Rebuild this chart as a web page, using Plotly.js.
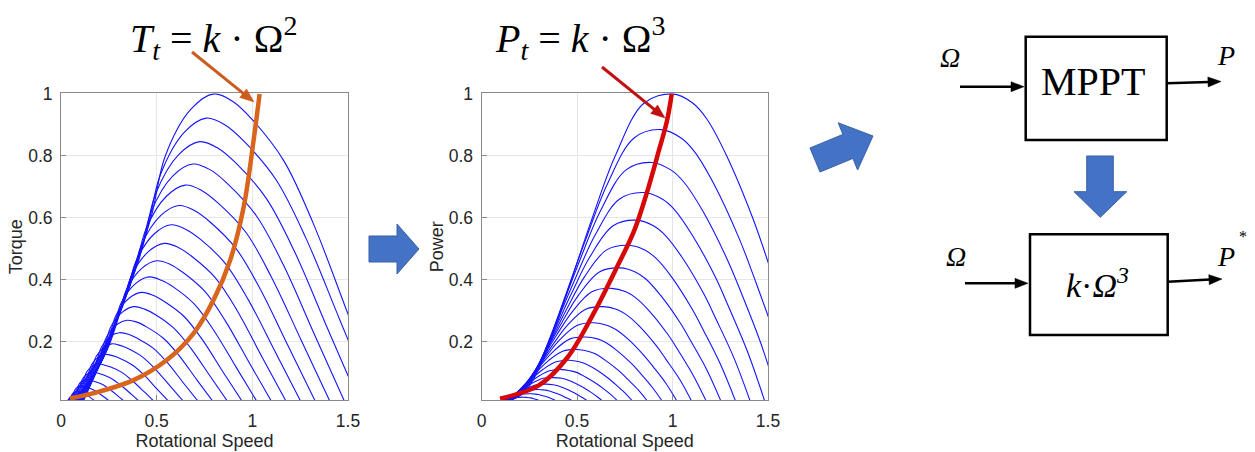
<!DOCTYPE html>
<html><head><meta charset="utf-8">
<script src="https://cdn.plot.ly/plotly-3.0.1.min.js"></script>
<style>html,body{margin:0;padding:0;background:#fff}#chart{width:1255px;height:452px}</style>
</head><body><div id="chart"></div>
<script>
// ---------- data ----------
const windSpeeds = [1.00,0.96,0.92,0.88,0.84,0.80,0.76,0.72,0.68,0.64,0.60,0.56,0.52,0.48,0.44,0.40,0.36,0.32,0.28,0.24,0.20,0.16];

const torqueX = [
 [0.11,0.183,0.258,0.36,0.47,0.545,0.678,0.8,0.9,1.0,1.164,1.32,1.5,1.68],
 [0.106,0.175,0.246,0.343,0.447,0.518,0.644,0.76,0.86,0.96,1.124,1.28,1.46,1.64],
 [0.101,0.167,0.235,0.327,0.427,0.494,0.615,0.725,0.821,0.916,1.072,1.221,1.392,1.564],
 [0.097,0.16,0.224,0.312,0.407,0.471,0.585,0.69,0.781,0.871,1.02,1.162,1.324,1.488],
 [0.092,0.151,0.211,0.294,0.383,0.444,0.551,0.65,0.737,0.823,0.966,1.1,1.256,1.412],
 [0.088,0.144,0.201,0.279,0.363,0.42,0.522,0.615,0.697,0.779,0.914,1.041,1.188,1.336],
 [0.084,0.136,0.189,0.262,0.34,0.393,0.488,0.575,0.653,0.731,0.859,0.98,1.12,1.26],
 [0.079,0.128,0.178,0.246,0.32,0.369,0.458,0.54,0.613,0.686,0.807,0.921,1.052,1.184],
 [0.075,0.12,0.166,0.229,0.297,0.343,0.425,0.5,0.569,0.638,0.752,0.859,0.983,1.108],
 [0.07,0.111,0.154,0.211,0.274,0.316,0.391,0.46,0.525,0.59,0.697,0.798,0.915,1.032],
 [0.066,0.104,0.142,0.194,0.251,0.289,0.357,0.42,0.481,0.542,0.642,0.737,0.846,0.956],
 [0.062,0.096,0.13,0.177,0.228,0.262,0.324,0.38,0.437,0.494,0.587,0.676,0.778,0.88],
 [0.057,0.088,0.119,0.161,0.207,0.238,0.294,0.345,0.397,0.449,0.535,0.616,0.71,0.804],
 [0.053,0.08,0.107,0.144,0.185,0.212,0.26,0.305,0.353,0.401,0.48,0.555,0.641,0.728],
 [0.048,0.071,0.094,0.127,0.161,0.185,0.227,0.265,0.309,0.353,0.425,0.494,0.573,0.652],
 [0.044,0.064,0.084,0.111,0.141,0.161,0.197,0.23,0.269,0.309,0.373,0.435,0.505,0.576],
 [0.04,0.056,0.072,0.094,0.118,0.135,0.164,0.19,0.225,0.26,0.318,0.373,0.437,0.5],
 [0.035,0.048,0.062,0.08,0.1,0.114,0.138,0.16,0.19,0.22,0.269,0.316,0.37,0.424],
 [0.031,0.041,0.052,0.067,0.083,0.093,0.112,0.13,0.155,0.18,0.22,0.259,0.303,0.348],
 [0.026,0.034,0.042,0.053,0.065,0.073,0.087,0.1,0.12,0.139,0.171,0.202,0.237,0.272],
 [0.022,0.028,0.034,0.043,0.052,0.059,0.07,0.08,0.093,0.106,0.128,0.149,0.172,0.196],
 [0.018,0.022,0.027,0.033,0.04,0.044,0.053,0.06,0.068,0.076,0.089,0.101,0.116,0.13]
];
const torqueY = [
 [0,0.1,0.2,0.4,0.6,0.8,0.95,1,0.975,0.917,0.785,0.58,0.29,0],
 [0,0.092,0.184,0.369,0.553,0.737,0.876,0.922,0.899,0.845,0.723,0.535,0.267,0],
 [0,0.085,0.169,0.339,0.508,0.677,0.804,0.846,0.825,0.776,0.664,0.491,0.245,0],
 [0,0.077,0.155,0.31,0.465,0.62,0.736,0.774,0.755,0.71,0.608,0.449,0.225,0],
 [0,0.071,0.141,0.282,0.423,0.564,0.67,0.706,0.688,0.647,0.554,0.409,0.205,0],
 [0,0.064,0.128,0.256,0.384,0.512,0.608,0.64,0.624,0.587,0.502,0.371,0.186,0],
 [0,0.058,0.116,0.231,0.347,0.462,0.549,0.578,0.563,0.53,0.453,0.335,0.168,0],
 [0,0.052,0.104,0.207,0.311,0.415,0.492,0.518,0.505,0.475,0.407,0.301,0.15,0],
 [0,0.046,0.092,0.185,0.277,0.37,0.439,0.462,0.451,0.424,0.363,0.268,0.134,0],
 [0,0.041,0.082,0.164,0.246,0.328,0.389,0.41,0.399,0.376,0.322,0.238,0.119,0],
 [0,0.036,0.072,0.144,0.216,0.288,0.342,0.36,0.351,0.33,0.283,0.209,0.104,0],
 [0,0.031,0.063,0.125,0.188,0.251,0.298,0.314,0.306,0.288,0.246,0.182,0.091,0],
 [0,0.027,0.054,0.108,0.162,0.216,0.257,0.27,0.264,0.248,0.212,0.157,0.078,0],
 [0,0.023,0.046,0.092,0.138,0.184,0.219,0.23,0.225,0.211,0.181,0.134,0.067,0],
 [0,0.019,0.039,0.077,0.116,0.155,0.184,0.194,0.189,0.178,0.152,0.112,0.056,0],
 [0,0.016,0.032,0.064,0.096,0.128,0.152,0.16,0.156,0.147,0.126,0.093,0.046,0],
 [0,0.013,0.026,0.052,0.078,0.104,0.123,0.13,0.126,0.119,0.102,0.075,0.038,0],
 [0,0.01,0.02,0.041,0.061,0.082,0.097,0.102,0.1,0.094,0.08,0.059,0.03,0],
 [0,0.008,0.016,0.031,0.047,0.063,0.074,0.078,0.076,0.072,0.062,0.045,0.023,0],
 [0,0.006,0.012,0.023,0.035,0.046,0.055,0.058,0.056,0.053,0.045,0.033,0.017,0],
 [0,0.004,0.008,0.016,0.024,0.032,0.038,0.04,0.039,0.037,0.031,0.023,0.012,0],
 [0,0.003,0.005,0.01,0.015,0.02,0.024,0.026,0.025,0.023,0.02,0.015,0.007,0]
];

const powerX = [
 [0.05,0.21,0.29,0.36,0.47,0.58,0.7,0.85,1.0,1.107,1.179,1.284,1.42,1.5,1.609,1.716],
 [0.048,0.198,0.274,0.339,0.442,0.546,0.658,0.799,0.94,1.045,1.115,1.218,1.351,1.429,1.535,1.64],
 [0.046,0.188,0.26,0.321,0.419,0.517,0.623,0.757,0.89,0.991,1.059,1.158,1.286,1.361,1.463,1.564],
 [0.044,0.179,0.248,0.307,0.4,0.494,0.595,0.723,0.85,0.946,1.01,1.103,1.225,1.295,1.392,1.488],
 [0.042,0.171,0.236,0.292,0.382,0.471,0.567,0.689,0.81,0.9,0.961,1.049,1.163,1.23,1.322,1.412],
 [0.04,0.163,0.225,0.278,0.363,0.447,0.539,0.655,0.77,0.855,0.912,0.995,1.102,1.165,1.251,1.336],
 [0.038,0.153,0.212,0.262,0.342,0.421,0.508,0.617,0.725,0.805,0.859,0.937,1.039,1.098,1.18,1.26],
 [0.036,0.144,0.199,0.246,0.321,0.395,0.477,0.578,0.68,0.756,0.806,0.88,0.976,1.032,1.108,1.184],
 [0.034,0.136,0.187,0.231,0.301,0.371,0.447,0.543,0.638,0.709,0.756,0.825,0.914,0.966,1.038,1.108],
 [0.032,0.126,0.173,0.214,0.279,0.343,0.414,0.502,0.59,0.656,0.701,0.766,0.85,0.899,0.966,1.032],
 [0.03,0.117,0.16,0.198,0.258,0.317,0.382,0.464,0.545,0.607,0.648,0.708,0.786,0.832,0.894,0.956],
 [0.028,0.107,0.147,0.182,0.237,0.291,0.351,0.425,0.5,0.557,0.595,0.651,0.723,0.765,0.823,0.88],
 [0.026,0.099,0.136,0.168,0.218,0.268,0.323,0.391,0.46,0.512,0.546,0.597,0.662,0.7,0.752,0.804],
 [0.024,0.091,0.124,0.153,0.199,0.245,0.295,0.357,0.42,0.466,0.497,0.542,0.601,0.635,0.682,0.728],
 [0.022,0.082,0.113,0.139,0.18,0.222,0.267,0.323,0.38,0.421,0.448,0.488,0.54,0.57,0.611,0.652],
 [0.02,0.074,0.101,0.124,0.161,0.199,0.239,0.289,0.34,0.375,0.399,0.434,0.479,0.505,0.541,0.576],
 [0.018,0.065,0.089,0.11,0.143,0.175,0.211,0.255,0.3,0.33,0.35,0.379,0.417,0.44,0.47,0.5],
 [0.016,0.057,0.078,0.096,0.124,0.152,0.183,0.221,0.26,0.285,0.301,0.325,0.356,0.374,0.399,0.424],
 [0.014,0.049,0.066,0.081,0.105,0.129,0.155,0.187,0.22,0.239,0.252,0.271,0.295,0.309,0.329,0.348]
];
const powerY = [
 [0,0.03,0.1,0.2,0.4,0.6,0.8,0.97,1,0.97,0.92,0.8,0.6,0.458,0.25,0],
 [0,0.027,0.088,0.177,0.354,0.531,0.708,0.858,0.885,0.858,0.814,0.708,0.531,0.405,0.221,0],
 [0,0.023,0.078,0.156,0.311,0.467,0.623,0.755,0.779,0.755,0.716,0.623,0.467,0.357,0.195,0],
 [0,0.02,0.068,0.136,0.273,0.409,0.545,0.661,0.682,0.661,0.627,0.545,0.409,0.312,0.17,0],
 [0,0.018,0.059,0.119,0.237,0.356,0.474,0.575,0.593,0.575,0.545,0.474,0.356,0.271,0.148,0],
 [0,0.015,0.051,0.102,0.205,0.307,0.41,0.497,0.512,0.497,0.471,0.41,0.307,0.234,0.128,0],
 [0,0.013,0.044,0.088,0.176,0.263,0.351,0.426,0.439,0.426,0.404,0.351,0.263,0.201,0.11,0],
 [0,0.011,0.037,0.075,0.149,0.224,0.299,0.362,0.373,0.362,0.343,0.299,0.224,0.171,0.093,0],
 [0,0.009,0.031,0.063,0.126,0.189,0.252,0.305,0.314,0.305,0.289,0.252,0.189,0.144,0.079,0],
 [0,0.008,0.026,0.052,0.105,0.157,0.21,0.254,0.262,0.254,0.241,0.21,0.157,0.12,0.066,0],
 [0,0.006,0.022,0.043,0.086,0.13,0.173,0.21,0.216,0.21,0.199,0.173,0.13,0.099,0.054,0],
 [0,0.005,0.018,0.035,0.07,0.105,0.14,0.17,0.176,0.17,0.162,0.14,0.105,0.08,0.044,0],
 [0,0.004,0.014,0.028,0.056,0.084,0.112,0.136,0.141,0.136,0.129,0.112,0.084,0.064,0.035,0],
 [0,0.003,0.011,0.022,0.044,0.066,0.088,0.107,0.111,0.107,0.102,0.088,0.066,0.051,0.028,0],
 [0,0.003,0.009,0.017,0.034,0.051,0.068,0.083,0.085,0.083,0.078,0.068,0.051,0.039,0.021,0],
 [0,0.002,0.006,0.013,0.026,0.038,0.051,0.062,0.064,0.062,0.059,0.051,0.038,0.029,0.016,0],
 [0,0.001,0.005,0.009,0.019,0.028,0.037,0.045,0.047,0.045,0.043,0.037,0.028,0.021,0.012,0],
 [0,0.001,0.003,0.007,0.013,0.02,0.026,0.032,0.033,0.032,0.03,0.026,0.02,0.015,0.008,0],
 [0,0.001,0.002,0.004,0.009,0.013,0.018,0.021,0.022,0.021,0.02,0.018,0.013,0.01,0.006,0]
];

// optimal (maximum-power) curves
const torqueOptX = [0.047,0.2,0.379,0.553,0.693,0.797,0.885,0.955,1.007,1.038];
const torqueOptY = [0.018,0.04,0.077,0.142,0.228,0.335,0.465,0.636,0.852,1.0];
const powerOptX  = [0.097,0.3,0.45,0.585,0.7,0.8,0.87,0.93,0.97,0.996];
const powerOptY  = [0.017,0.06,0.15,0.29,0.43,0.56,0.69,0.82,0.91,1.0];

const xTickVals = [0,0.5,1,1.5];
const xTickText = ['0','0.5','1','1.5'];
const yTickVals = [0.2,0.4,0.6,0.8,1];
const yTickText = ['0.2','0.4','0.6','0.8','1'];

// ---------- traces ----------
const BLUE = 'rgb(20,20,255)';
const traces = [];
torqueX.forEach((xs,i)=>traces.push({x:xs,y:torqueY[i],xaxis:'x',yaxis:'y',type:'scatter',mode:'lines',
  name:'v='+windSpeeds[i],line:{color:BLUE,width:1.1,shape:'spline',smoothing:1},hoverinfo:'skip',showlegend:false}));
powerX.forEach((xs,i)=>traces.push({x:xs,y:powerY[i],xaxis:'x2',yaxis:'y2',type:'scatter',mode:'lines',
  name:'v='+windSpeeds[i],line:{color:BLUE,width:1.1,shape:'spline',smoothing:1},hoverinfo:'skip',showlegend:false}));
traces.push({x:torqueOptX,y:torqueOptY,xaxis:'x',yaxis:'y',type:'scatter',mode:'lines',
  line:{color:'rgb(217,100,28)',width:4.5,shape:'spline',smoothing:1},hoverinfo:'skip',showlegend:false});
traces.push({x:powerOptX,y:powerOptY,xaxis:'x2',yaxis:'y2',type:'scatter',mode:'lines',
  line:{color:'rgb(214,8,8)',width:4.5,shape:'spline',smoothing:1},hoverinfo:'skip',showlegend:false});

// ---------- layout ----------
const W=1255,H=452;
const fx = p => p/W, fy = p => 1 - p/H;
const tickFont = {family:'Liberation Sans, Arial, sans-serif',size:17.5,color:'#262626'};
const titleFont = {family:'Liberation Sans, Arial, sans-serif',size:18,color:'#262626'};
function xAx(d0,d1,anchor){return {domain:[fx(d0),fx(d1)],range:[0,1.5],anchor:anchor,showline:true,mirror:true,
  linecolor:'#8a8a8a',linewidth:1,ticks:'inside',ticklen:5,tickcolor:'#8a8a8a',tickvals:xTickVals,ticktext:xTickText,
  showgrid:true,gridcolor:'#e6e6e6',zeroline:false,tickfont:tickFont,ticklabelstandoff:5,
  title:{text:'Rotational Speed',font:titleFont,standoff:3}};}
function yAx(anchor,title){return {domain:[fy(400),fy(93.3)],range:[0.0129,1.002],anchor:anchor,showline:true,mirror:true,
  linecolor:'#8a8a8a',linewidth:1,ticks:'inside',ticklen:5,tickcolor:'#8a8a8a',tickvals:yTickVals,ticktext:yTickText,
  showgrid:true,gridcolor:'#e6e6e6',zeroline:false,tickfont:tickFont,ticklabelstandoff:4,
  title:{text:title,font:titleFont,standoff:0}};}

function path(pts,close){return 'M '+pts.map(p=>fx(p[0]).toFixed(5)+','+fy(p[1]).toFixed(5)).join(' L ')+(close===false?'':' Z');}
// arrow drawn as a line plus a filled triangular head (pixel coordinates of the page)
function arrowShapes(x0,y0,x1,y1,color,w,hl,hw){
  const dx=x1-x0, dy=y1-y0, L=Math.hypot(dx,dy), ux=dx/L, uy=dy/L, nx=-uy, ny=ux;
  const bx=x1-ux*hl, by=y1-uy*hl;
  return [
    {type:'path',xref:'paper',yref:'paper',path:path([[x0,y0],[bx+ux*1,by+uy*1]],false),line:{color:color,width:w}},
    {type:'path',xref:'paper',yref:'paper',path:path([[x1,y1],[bx+nx*hw/2,by+ny*hw/2],[bx-nx*hw/2,by-ny*hw/2]]),
      fillcolor:color,line:{color:color,width:0.5}}
  ];
}
const ARROWBLUE='rgb(68,114,196)';
const shapes = [
  {type:'path',xref:'paper',yref:'paper',path:path([[369,236],[397,236],[397,224],[419,249],[397,274],[397,262],[369,262]]),
   fillcolor:ARROWBLUE,line:{color:'rgb(58,98,170)',width:1}},
  {type:'path',xref:'paper',yref:'paper',path:path([[810,148],[842.9,134.4],[838.2,122.8],[873,136],[857.6,170],[852.9,158.4],[820,172]]),
   fillcolor:ARROWBLUE,line:{color:'rgb(58,98,170)',width:1}},
  {type:'path',xref:'paper',yref:'paper',path:path([[1086.7,156],[1113.3,156],[1113.3,191.7],[1126.7,191.7],[1100.3,217.3],[1074,191.7],[1086.7,191.7]]),
   fillcolor:ARROWBLUE,line:{color:'rgb(58,98,170)',width:1}},
  {type:'rect',xref:'paper',yref:'paper',x0:fx(1025.7),x1:fx(1166.7),y0:fy(140),y1:fy(36.7),line:{color:'#000',width:2.5}},
  {type:'rect',xref:'paper',yref:'paper',x0:fx(1030),x1:fx(1167.7),y0:fy(335),y1:fy(234.3),line:{color:'#000',width:2.5}}
].concat(
  arrowShapes(192,52,254,102,'rgb(204,92,30)',3,14,11),
  arrowShapes(602,67,665,118,'rgb(192,16,16)',3,14,11),
  arrowShapes(960,86.7,1024,86.7,'#000',2.5,13,10),
  arrowShapes(1167,83.3,1221,81.5,'#000',2.5,13,10),
  arrowShapes(965,283.3,1028,283.3,'#000',2.5,13,10),
  arrowShapes(1168,281.7,1222,279,'#000',2.5,13,10)
);

const serif='Liberation Serif, Times New Roman, serif';
function label(x,y,text,size){return {xref:'paper',yref:'paper',x:fx(x),y:fy(y),text:text,showarrow:false,
  xanchor:'center',yanchor:'middle',font:{family:serif,size:size,color:'#000'}};}

const annotations = [
  label(213,38,'<i>T</i><sub><i>t</i></sub> = <i>k</i> · Ω<sup>2</sup>',40),
  label(580,38,'<i>P</i><sub><i>t</i></sub> = <i>k</i> · Ω<sup>3</sup>',40),
  label(1093,82,'MPPT',40),
  label(950,58,'<i>Ω</i>',28),
  label(1226,56,'<i>P</i>',28),
  label(1097,283,'<i>k</i>·<i>Ω</i><sup><i>3</i></sup>',34),
  label(956,256,'<i>Ω</i>',28),
  label(1226,256,'<i>P</i>',28),
  label(1243,236,'*',16)
];

const layout = {width:W,height:H,margin:{l:0,r:0,t:0,b:0},paper_bgcolor:'#fff',plot_bgcolor:'#fff',showlegend:false,
  xaxis:xAx(61,348,'y'),yaxis:yAx('x','Torque'),xaxis2:xAx(481.5,768,'y2'),yaxis2:yAx('x2','Power'),
  shapes:shapes,annotations:annotations};

Plotly.newPlot('chart',traces,layout,{staticPlot:true,displayModeBar:false});
</script></body></html>
